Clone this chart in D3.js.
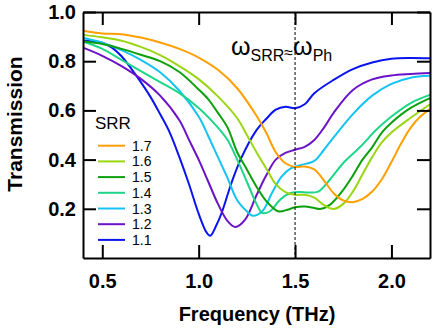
<html>
<head>
    <meta charset="utf-8">
    <script src="https://cdn.jsdelivr.net/npm/d3@7"></script>
    <style>
        body { margin: 0; background: #fff; }
        text { font-family: Arial, "Liberation Sans", sans-serif; }
    </style>
</head>
<body>
<svg id="chart"></svg>
<script>
    // SRR sizes (legend order) and colours
    const srrLabels = ['1.7', '1.6', '1.5', '1.4', '1.3', '1.2', '1.1'];
    const srrColors = ['#ff9f00', '#9ad612', '#0ca00c', '#1ed68a', '#14c3f0', '#6b13c8', '#0a14f0'];

    // transmission curves, [frequency THz, T]
    const srr17 = [[0.4,0.924],[0.5,0.913],[0.6,0.910],[0.7,0.896],[0.8,0.876],[0.9,0.850],[1.0,0.815],[1.1,0.765],[1.2,0.690],[1.3,0.578],[1.35,0.51],[1.4,0.43],[1.45,0.385],[1.5,0.37],[1.55,0.372],[1.6,0.36],[1.65,0.315],[1.7,0.263],[1.75,0.234],[1.8,0.227],[1.85,0.24],[1.9,0.27],[1.95,0.32],[2.0,0.39],[2.05,0.465],[2.1,0.53],[2.15,0.575],[2.2,0.605]];
    const srr16 = [[0.4,0.907],[0.5,0.897],[0.6,0.883],[0.7,0.858],[0.8,0.825],[0.9,0.78],[1.0,0.727],[1.1,0.657],[1.2,0.568],[1.25,0.50],[1.3,0.43],[1.35,0.365],[1.4,0.30],[1.45,0.268],[1.5,0.257],[1.55,0.257],[1.6,0.245],[1.65,0.215],[1.7,0.199],[1.75,0.22],[1.8,0.27],[1.85,0.34],[1.9,0.41],[1.95,0.47],[2.0,0.51],[2.1,0.57],[2.2,0.625]];
    const srr15 = [[0.4,0.88],[0.5,0.87],[0.6,0.85],[0.7,0.826],[0.8,0.80],[0.9,0.756],[1.0,0.685],[1.05,0.645],[1.1,0.59],[1.15,0.53],[1.2,0.43],[1.25,0.36],[1.3,0.29],[1.35,0.232],[1.4,0.195],[1.42,0.189],[1.46,0.196],[1.5,0.206],[1.55,0.209],[1.6,0.203],[1.63,0.199],[1.68,0.216],[1.75,0.277],[1.8,0.335],[1.85,0.40],[1.9,0.45],[1.95,0.51],[2.0,0.55],[2.1,0.61],[2.2,0.65]];
    const srr14 = [[0.4,0.88],[0.5,0.85],[0.6,0.805],[0.7,0.76],[0.8,0.715],[0.9,0.67],[1.0,0.61],[1.1,0.53],[1.15,0.48],[1.2,0.40],[1.25,0.31],[1.3,0.22],[1.33,0.183],[1.37,0.19],[1.42,0.235],[1.47,0.262],[1.52,0.268],[1.57,0.266],[1.62,0.27],[1.68,0.318],[1.75,0.386],[1.84,0.453],[1.92,0.52],[2.0,0.575],[2.1,0.63],[2.2,0.663]];
    const srr13 = [[0.4,0.895],[0.5,0.875],[0.6,0.845],[0.7,0.805],[0.8,0.755],[0.9,0.68],[1.0,0.575],[1.05,0.495],[1.1,0.41],[1.15,0.325],[1.2,0.235],[1.25,0.19],[1.28,0.172],[1.33,0.19],[1.38,0.264],[1.43,0.331],[1.48,0.365],[1.53,0.378],[1.6,0.395],[1.65,0.44],[1.7,0.49],[1.8,0.585],[1.9,0.66],[2.0,0.708],[2.1,0.733],[2.2,0.741]];
    const srr12 = [[0.4,0.855],[0.5,0.822],[0.6,0.78],[0.7,0.728],[0.8,0.66],[0.9,0.56],[0.95,0.48],[1.0,0.40],[1.05,0.31],[1.1,0.22],[1.15,0.15],[1.19,0.126],[1.24,0.155],[1.3,0.255],[1.35,0.335],[1.4,0.40],[1.45,0.427],[1.5,0.44],[1.55,0.452],[1.6,0.48],[1.65,0.53],[1.7,0.59],[1.8,0.683],[1.9,0.726],[2.0,0.742],[2.1,0.748],[2.2,0.752]];
    const srr11 = [[0.4,0.884],[0.5,0.875],[0.55,0.855],[0.6,0.82],[0.65,0.77],[0.7,0.715],[0.75,0.655],[0.8,0.585],[0.85,0.51],[0.9,0.41],[0.95,0.30],[1.0,0.18],[1.04,0.105],[1.06,0.09],[1.09,0.13],[1.12,0.185],[1.17,0.305],[1.22,0.405],[1.3,0.52],[1.35,0.565],[1.4,0.603],[1.45,0.615],[1.5,0.609],[1.55,0.625],[1.6,0.67],[1.7,0.724],[1.8,0.768],[1.9,0.795],[2.0,0.81],[2.1,0.813],[2.2,0.812]];
    const series = [srr17, srr16, srr15, srr14, srr13, srr12, srr11];

    const xTicks = [0.5, 1.0, 1.5, 2.0];
    const yTicks = [0.2, 0.4, 0.6, 0.8, 1.0];

    const W = 433, H = 331;
    const mLeft = 83, mRight = 430, mTop = 12, mBottom = 258;

    const svg = d3.select('#chart').attr('width', W).attr('height', H);

    const x = d3.scaleLinear().domain([0.4, 2.2]).range([mLeft, mRight]);
    const y = d3.scaleLinear().domain([0, 1.0]).range([mBottom, mTop]);

    // curves
    const line = d3.line()
        .x(d => x(d[0]))
        .y(d => y(d[1]))
        .curve(d3.curveCatmullRom.alpha(0.5));

    const plot = svg.append('g');
    series.slice().reverse().forEach((s, i) => {
        const idx = series.length - 1 - i;
        plot.append('path')
            .attr('d', line(s))
            .attr('fill', 'none')
            .attr('stroke', srrColors[idx])
            .attr('stroke-width', 2);
    });

    // dashed marker at 1.5 THz
    svg.append('line')
        .attr('x1', x(1.5)).attr('x2', x(1.5))
        .attr('y1', mTop).attr('y2', mBottom)
        .attr('stroke', '#000')
        .attr('stroke-width', 1)
        .attr('stroke-dasharray', '3,2');

    // axes: inward ticks on all four sides
    const tickLen = 13;
    const axStyle = g => {
        g.select('.domain').attr('stroke-width', 2);
        g.selectAll('.tick line').attr('stroke-width', 2);
        g.selectAll('text').attr('font-size', 20).attr('font-weight', 'bold')
            .attr('font-family', 'Arial, "Liberation Sans", sans-serif').attr('fill', '#000');
    };

    svg.append('g')
        .attr('transform', `translate(0,${mBottom})`)
        .call(d3.axisBottom(x).tickValues(xTicks).tickFormat(d3.format('.1f'))
            .tickSizeInner(-tickLen).tickSizeOuter(0).tickPadding(16))
        .call(axStyle);

    svg.append('g')
        .attr('transform', `translate(0,${mTop})`)
        .call(d3.axisTop(x).tickValues(xTicks).tickFormat('')
            .tickSizeInner(-tickLen).tickSizeOuter(0))
        .call(axStyle);

    svg.append('g')
        .attr('transform', `translate(${mLeft},0)`)
        .call(d3.axisLeft(y).tickValues(yTicks).tickFormat(d3.format('.1f'))
            .tickSizeInner(-tickLen).tickSizeOuter(0).tickPadding(7))
        .call(axStyle);

    svg.append('g')
        .attr('transform', `translate(${mRight},0)`)
        .call(d3.axisRight(y).tickValues(yTicks).tickFormat('')
            .tickSizeInner(-tickLen).tickSizeOuter(0))
        .call(axStyle);

    // axis titles
    svg.append('text')
        .attr('x', 257).attr('y', 321)
        .attr('text-anchor', 'middle')
        .attr('font-size', 20).attr('font-weight', 'bold')
        .text('Frequency (THz)');

    svg.append('text')
        .attr('transform', 'translate(22,124) rotate(-90)')
        .attr('text-anchor', 'middle')
        .attr('font-size', 21).attr('font-weight', 'bold')
        .text('Transmission');

    // legend
    const legend = svg.append('g');
    legend.append('text')
        .attr('x', 95).attr('y', 129)
        .attr('font-size', 17)
        .text('SRR');
    srrLabels.forEach((lab, i) => {
        const ly = 145.7 + i * 15.7;
        legend.append('line')
            .attr('x1', 98).attr('x2', 125)
            .attr('y1', ly).attr('y2', ly)
            .attr('stroke', srrColors[i]).attr('stroke-width', 2);
        legend.append('text')
            .attr('x', 132).attr('y', ly + 5)
            .attr('font-size', 14)
            .text(lab);
    });

    // annotation
    const ann = svg.append('text').attr('x', 231).attr('y', 55).attr('font-size', 25);
    ann.append('tspan').text('ω');
    ann.append('tspan').attr('font-size', 16).attr('dy', 6).text('SRR');
    ann.append('tspan').attr('font-size', 16).attr('dy', -3).text('≈');
    ann.append('tspan').attr('dy', -3).text('ω');
    ann.append('tspan').attr('font-size', 16).attr('dy', 6).text('Ph');
</script>
</body>
</html>
